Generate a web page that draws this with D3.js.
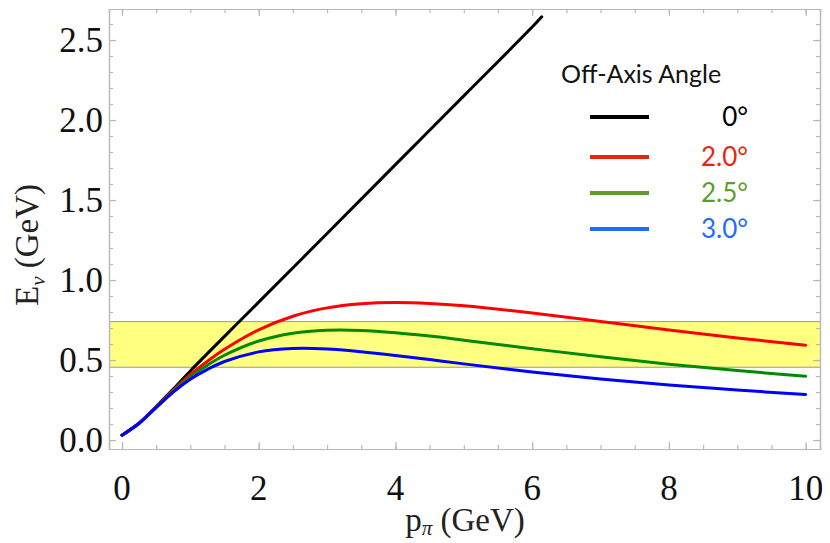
<!DOCTYPE html>
<html>
<head>
<meta charset="utf-8">
<script src="https://cdn.jsdelivr.net/npm/d3@7"></script>
<style>
  html, body { margin: 0; padding: 0; background: #fff; }
  svg { display: block; }
  .tick-label { font-family: "Liberation Serif", "DejaVu Serif", serif; font-size: 35px; fill: #111; }
  .axis-title { font-family: "Liberation Serif", "DejaVu Serif", serif; font-size: 33px; fill: #222; }
  .legend { font-family: Lato, "Noto Sans", sans-serif; }
</style>
</head>
<body>
<div id="chart"></div>
<script>
var w = 830, h = 543;

// pion momentum (GeV) sampled along the curves
var pOff = [0, 0.25, 0.5, 0.75, 1, 1.25, 1.5, 2, 2.5, 3, 3.5, 4, 4.5, 5, 6, 7, 8, 9, 10];
var red2p0 = [0.03, 0.105, 0.207, 0.312, 0.408, 0.492, 0.567, 0.689, 0.774, 0.826, 0.852, 0.860, 0.854, 0.839, 0.794, 0.741, 0.688, 0.638, 0.593];
var green2p5 = [0.03, 0.105, 0.205, 0.306, 0.395, 0.468, 0.530, 0.619, 0.668, 0.686, 0.685, 0.671, 0.650, 0.624, 0.571, 0.520, 0.474, 0.434, 0.399];
var blue3p0 = [0.03, 0.105, 0.203, 0.300, 0.380, 0.442, 0.491, 0.551, 0.572, 0.569, 0.552, 0.529, 0.503, 0.476, 0.425, 0.381, 0.344, 0.312, 0.285];

// on-axis line stops at the top of the frame
var pOn = [0, 0.25, 0.5, 0.75, 1, 1.5, 2, 3, 4, 5, 6, 6.14];
var black0 = [0.03, 0.105, 0.21, 0.318, 0.432, 0.648, 0.862, 1.291, 1.721, 2.151, 2.581, 2.645];

var bandLo = 0.455, bandHi = 0.74;

var angles = ["0°", "2.0°", "2.5°", "3.0°"];
var lineColors = ["#000000", "#ff0000", "#008a00", "#0000ff"];
var legendColors = ["#000000", "#e8260f", "#5b9e2d", "#1f6cff"];

var xTicks = [0, 2, 4, 6, 8, 10];
var yTicks = [0.0, 0.5, 1.0, 1.5, 2.0, 2.5];

var series = [
  { name: angles[0], xs: pOn, ys: black0 },
  { name: angles[1], xs: pOff, ys: red2p0 },
  { name: angles[2], xs: pOff, ys: green2p5 },
  { name: angles[3], xs: pOff, ys: blue3p0 }
];

var x = d3.scaleLinear().domain([-0.19, 10.21]).range([109, 820]);
var y = d3.scaleLinear().domain([-0.056, 2.694]).range([449, 9]);

var svg = d3.select("#chart").append("svg")
    .attr("width", w)
    .attr("height", h);

// yellow band
svg.append("rect")
    .attr("x", x.range()[0])
    .attr("y", y(bandHi))
    .attr("width", x.range()[1] - x.range()[0])
    .attr("height", y(bandLo) - y(bandHi))
    .style("fill", "#ffff80");
[bandLo, bandHi].forEach(function(v) {
  svg.append("line")
      .attr("x1", x.range()[0]).attr("x2", x.range()[1])
      .attr("y1", y(v)).attr("y2", y(v))
      .style("stroke", "#999").style("stroke-width", 1);
});

// frame with inward ticks on all sides
var frameColor = "#b8b8b8";
var xMinor = d3.range(0, 10.01, 0.5);
var yMinor = d3.range(0, 2.61, 0.1);

function frameSide(axisFn, scale, pos, values, size) {
  var tr = (axisFn === d3.axisBottom || axisFn === d3.axisTop)
      ? "translate(0," + pos + ")" : "translate(" + pos + ",0)";
  svg.append("g")
      .attr("transform", tr)
      .call(axisFn(scale).tickValues(values).tickSize(-size).tickFormat(""));
}
frameSide(d3.axisBottom, x, y.range()[0], xMinor, 4);
frameSide(d3.axisTop, x, y.range()[1], xMinor, 4);
frameSide(d3.axisLeft, y, x.range()[0], yMinor, 4);
frameSide(d3.axisRight, y, x.range()[1], yMinor, 4);
frameSide(d3.axisBottom, x, y.range()[0], xTicks, 7);
frameSide(d3.axisTop, x, y.range()[1], xTicks, 7);
frameSide(d3.axisLeft, y, x.range()[0], yTicks, 7);
frameSide(d3.axisRight, y, x.range()[1], yTicks, 7);

svg.selectAll(".domain, .tick line").style("stroke", frameColor).style("stroke-width", 1.2);

// tick labels
svg.selectAll(".xlab").data(xTicks).enter().append("text")
    .attr("class", "tick-label")
    .attr("x", function(d) { return x(d); })
    .attr("y", 500)
    .attr("text-anchor", "middle")
    .text(function(d) { return d; });

svg.selectAll(".ylab").data(yTicks).enter().append("text")
    .attr("class", "tick-label")
    .attr("x", 103)
    .attr("y", function(d) { return y(d) + 12; })
    .attr("text-anchor", "end")
    .text(function(d) { return d.toFixed(1); });

// curves, blue ends up on top
var line = d3.line()
    .x(function(d) { return x(d[0]); })
    .y(function(d) { return y(d[1]); })
    .curve(d3.curveCatmullRom.alpha(0.5));

series.forEach(function(s, i) {
  svg.append("path")
      .datum(d3.zip(s.xs, s.ys))
      .attr("d", line)
      .style("fill", "none")
      .style("stroke", lineColors[i])
      .style("stroke-width", 3)
      .style("stroke-linecap", "round");
});

// axis titles
var xt = svg.append("text")
    .attr("class", "axis-title")
    .attr("x", 465)
    .attr("y", 531)
    .attr("text-anchor", "middle");
xt.append("tspan").text("p");
xt.append("tspan").attr("dy", 4).style("font-size", "21px").style("font-style", "italic").text("π");
xt.append("tspan").attr("dy", -4).text(" (GeV)");

var yt = svg.append("text")
    .attr("class", "axis-title")
    .attr("transform", "translate(38,245) rotate(-90)")
    .attr("text-anchor", "middle");
yt.append("tspan").text("E");
yt.append("tspan").attr("dy", 7).style("font-size", "21px").style("font-style", "italic").text("ν");
yt.append("tspan").attr("dy", -7).text(" (GeV)");

// legend
var lg = svg.append("g").attr("class", "legend");
lg.append("text")
    .attr("x", 561)
    .attr("y", 83)
    .style("font-size", "25px")
    .style("fill", "#111")
    .text("Off-Axis Angle");

var rowY = [117, 157, 193, 229];
lg.selectAll(".row").data(angles).enter().append("line")
    .attr("x1", 590).attr("x2", 649)
    .attr("y1", function(d, i) { return rowY[i]; })
    .attr("y2", function(d, i) { return rowY[i]; })
    .style("stroke", function(d, i) { return legendColors[i]; })
    .style("stroke-width", 4);
lg.selectAll(".lab").data(angles).enter().append("text")
    .attr("x", 748)
    .attr("y", function(d, i) { return rowY[i] + 9; })
    .attr("text-anchor", "end")
    .style("font-size", "26px")
    .style("fill", function(d, i) { return legendColors[i]; })
    .text(function(d) { return d; });
</script>
</body>
</html>
